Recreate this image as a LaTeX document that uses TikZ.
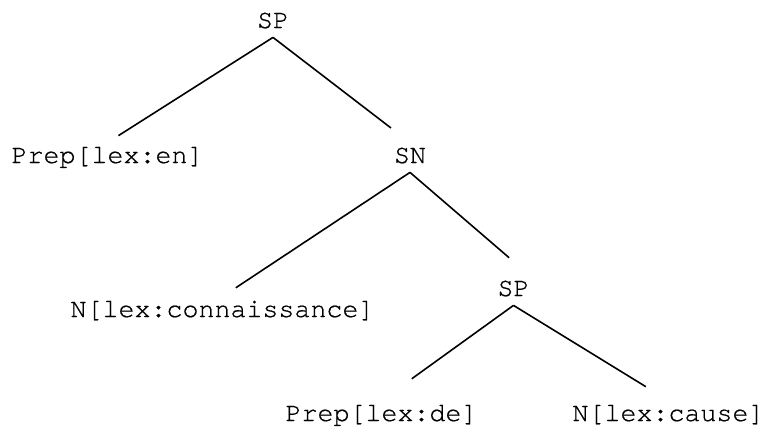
\documentclass[tikz,border=0pt]{standalone}
\usepackage{fontspec}
\IfFontExistsTF{TeX Gyre Cursor}{\newfontfamily\catfont[FakeBold=0.6]{TeX Gyre Cursor}}{\newfontfamily\catfont{Liberation Mono}}
\usetikzlibrary{positioning}
\tikzset{
    cat/.style={inner sep=0pt,text height=10pt,text depth=4.5pt,anchor=base,font=\catfont\fontsize{13.33}{16}\selectfont},
    branch/.style={line width=0.8pt},
}

\begin{document}
\begin{tikzpicture}[x=0.5pt,y=-0.5pt]
            \useasboundingbox (0,0) rectangle (767,428);
            \node[cat] (sp) at (273,28) {SP};
            \node[cat] (prepen) at (107.5,163) {Prep[lex:en]};
            \node[cat] (sn) at (410,163) {SN};
            \node[cat] (connaissance) at (222.5,317) {N[lex:connaissance]};
            \node[cat] (spde) at (513.5,296) {SP};
            \node[cat] (prepde) at (381.5,421) {Prep[lex:de]};
            \node[cat] (cause) at (668.5,421) {N[lex:cause]};
            \draw[branch,shorten >=6.5pt] (sp.south) -- (prepen.north);
            \draw[branch,shorten >=12pt] (sp.south) -- (sn.north);
            \draw[branch,shorten >=8pt] (sn.south) -- (connaissance.north);
            \draw[branch,shorten >=13.7pt] (sn.south) -- (spde.north east);
            \draw[branch,shorten >=18.7pt] (spde.south) -- (prepde.north);
            \draw[branch,shorten >=13.3pt] (spde.south) -- (cause.north);
        \end{tikzpicture}
\end{document}
